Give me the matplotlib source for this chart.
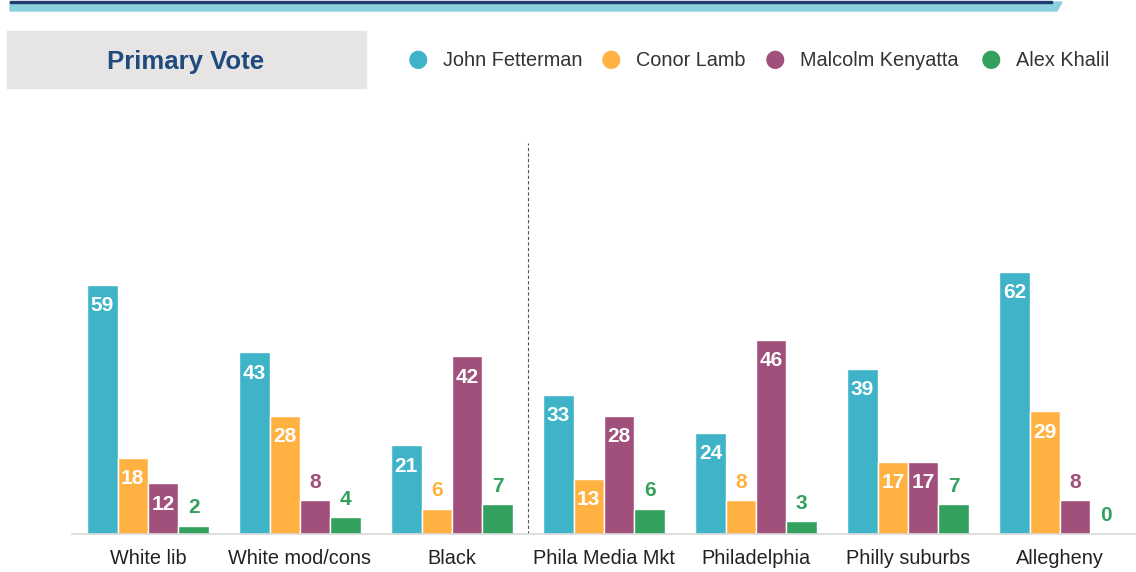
import matplotlib
matplotlib.use('Agg')
import matplotlib.pyplot as plt
import numpy as np
from matplotlib.patches import Rectangle, Polygon

plt.rcParams['font.family'] = ['Liberation Sans', 'DejaVu Sans']

# ── 数据 ──
groups = ['White lib', 'White mod/cons', 'Black', 'Phila Media Mkt',
          'Philadelphia', 'Philly suburbs', 'Allegheny']
candidates = ['John Fetterman', 'Conor Lamb', 'Malcolm Kenyatta', 'Alex Khalil']
fetterman = [59, 43, 21, 33, 24, 39, 62]
lamb = [18, 28, 6, 13, 8, 17, 29]
kenyatta = [12, 8, 42, 28, 46, 17, 8]
khalil = [2, 4, 7, 6, 3, 7, 0]

COLORS = ['#3fb3c8', '#ffb142', '#a1507c', '#33a05e']
NAVY = '#1f4a7e'

fig = plt.figure(figsize=(11.36, 5.72), dpi=100)
W, H = 1136, 572

def fx(px): return px / W
def fy(py): return 1 - py / H

# 顶部装饰条
fig.patches.append(Polygon([(fx(10), fy(2)), (fx(1062), fy(2)), (fx(1057), fy(11)), (fx(10), fy(11))],
                           closed=True, transform=fig.transFigure, color='#8dd0dd', zorder=0))
fig.patches.append(Rectangle((fx(10), fy(3)), fx(1052) - fx(10), 2 / H,
                             transform=fig.transFigure, color='#1f3a6e', zorder=1))

# 标题框
fig.patches.append(Rectangle((fx(7), fy(88)), fx(366) - fx(7), 57 / H,
                             transform=fig.transFigure, color='#e6e5e4', zorder=0))
fig.text(fx(186), fy(60), 'Primary Vote', ha='center', va='center_baseline',
         fontsize=18.5, fontweight='bold', color=NAVY)

# 图例
leg_x = [418, 611, 775, 991]
for i, name in enumerate(candidates):
    fig.text(fx(leg_x[i]), fy(59), '\u25CF', ha='center', va='center',
             fontsize=17, color=COLORS[i], family=['DejaVu Sans'])
    fig.text(fx(leg_x[i] + 25), fy(59), name, ha='left', va='center_baseline',
             fontsize=14.3, color='#333333')

# 柱状图
ax = fig.add_axes([fx(72), fy(534), 1 - fx(72), fy(143) - fy(534)])
x = np.arange(len(groups))
width = 0.2
series = [fetterman, lamb, kenyatta, khalil]
for i, vals in enumerate(series):
    offset = (i - 1.5) * width
    bars = ax.bar(x + offset, vals, width, color=COLORS[i], edgecolor='white', linewidth=1)
    for bar, v in zip(bars, vals):
        cx = bar.get_x() + bar.get_width() / 2
        if v >= 10:
            ax.annotate(str(v), xy=(cx, v), xytext=(0, -15), textcoords='offset points',
                        ha='center', va='center', fontsize=15, fontweight='bold', color='white')
        else:
            ax.annotate(str(v), xy=(cx, v), xytext=(0, 13), textcoords='offset points',
                        ha='center', va='center', fontsize=15, fontweight='bold', color=COLORS[i])

ax.axvline(2.5, color='#555555', linestyle=(0, (3, 2)), linewidth=0.8)
ax.set_xlim(-0.5, 6.5)
ax.set_ylim(0, 92.5)
ax.set_xticks(x)
ax.set_xticklabels(groups, fontsize=14.3, color='#222222')
ax.tick_params(axis='x', length=0, pad=11)
ax.set_yticks([])
for s in ['top', 'right', 'left']:
    ax.spines[s].set_visible(False)
ax.spines['bottom'].set_color('#d9d9d9')
ax.spines['bottom'].set_linewidth(1.2)

plt.savefig('out.png', dpi=100)
